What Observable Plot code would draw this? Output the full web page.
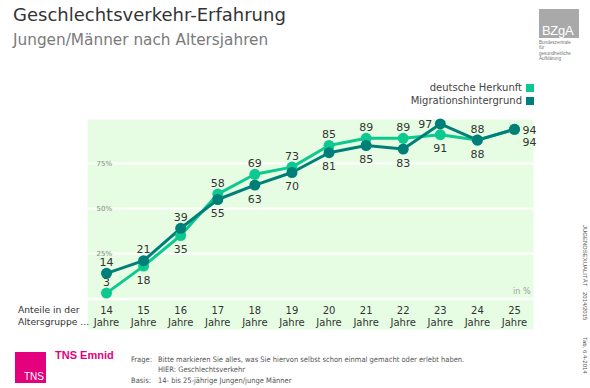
<!DOCTYPE html>
<html>
<head>
<meta charset="utf-8">
<script src="https://cdn.jsdelivr.net/npm/d3@7"></script>
<script src="https://cdn.jsdelivr.net/npm/@observablehq/plot@0.6"></script>
<style>
  html, body { margin: 0; padding: 0; background: #fff; }
  body { width: 590px; height: 388px; position: relative; overflow: hidden; font-family: "DejaVu Sans", Verdana, sans-serif; }
  .abs { position: absolute; white-space: nowrap; }
  #chart { position: absolute; left: 0; top: 0; }
  #title { left: 13px; top: 4px; font-size: 18px; color: #333; }
  #subtitle { left: 13px; top: 31px; font-size: 15.3px; color: #7a7a7a; }
  .leg { font-size: 10px; color: #444; }
  .sw { position: absolute; width: 8px; height: 8px; left: 526px; }
  #bzga { left: 539px; top: 9px; width: 40px; height: 29px; background: #a9a9a9; color: #fff; font-family: "Liberation Sans", Arial, sans-serif; font-size: 13px; }
  #bzga span { position: absolute; left: 3px; bottom: 0px; letter-spacing: -0.3px; }
  #bzgatxt { left: 539px; top: 40px; font-size: 4.6px; line-height: 5.3px; color: #777; font-family: "Liberation Sans", Arial, sans-serif; }
  #tns { left: 15px; top: 352px; width: 31px; height: 31px; background: #e4007c; color: #fff; font-family: "Liberation Sans", Arial, sans-serif; font-size: 10px; }
  #tns span { position: absolute; right: 2px; bottom: 1px; }
  #emnid { left: 55px; top: 349px; font-size: 11px; font-weight: bold; color: #e4007c; font-family: "Liberation Sans", Arial, sans-serif; }
  .foot { font-size: 7.5px; color: #555; font-family: "DejaVu Sans Condensed", "DejaVu Sans", sans-serif; }
  .side { font-size: 6px; color: #555; transform-origin: 0 0; transform: rotate(90deg); font-family: "Liberation Sans", Arial, sans-serif; }
  .rowlab { left: 18px; font-size: 9.2px; color: #333; }
</style>
</head>
<body>
<div id="chart"></div>
<div class="abs" id="title">Geschlechtsverkehr-Erfahrung</div>
<div class="abs" id="subtitle">Jungen/Männer nach Altersjahren</div>
<div class="abs" id="bzga"><span>BZgA</span></div>
<div class="abs" id="bzgatxt">Bundeszentrale<br>für<br>gesundheitliche<br>Aufklärung</div>
<div class="abs rowlab" style="top:304px">Anteile in der</div>
<div class="abs rowlab" style="top:316px">Altersgruppe ...</div>
<div class="abs" id="tns"><span>TNS</span></div>
<div class="abs" id="emnid">TNS Emnid</div>
<div class="abs foot" style="left:131px; top:355px">Frage:</div>
<div class="abs foot" style="left:158px; top:355px">Bitte markieren Sie alles, was Sie hiervon selbst schon einmal gemacht oder erlebt haben.</div>
<div class="abs foot" style="left:158px; top:365px">HIER: Geschlechtsverkehr</div>
<div class="abs foot" style="left:131px; top:376px">Basis:</div>
<div class="abs foot" style="left:158px; top:376px">14- bis 25-jährige Jungen/junge Männer</div>
<div class="abs side" style="left:588px; top:225px">JUGENDSEXUALITÄT</div>
<div class="abs side" style="left:588px; top:292px">2014/2015</div>
<div class="abs side" style="left:588px; top:337px">Tab. 6.4-2014</div>
<script>
// ---- data ----
const ages = [14, 15, 16, 17, 18, 19, 20, 21, 22, 23, 24, 25];
const seriesNames = ["deutsche Herkunft", "Migrationshintergrund"];
const deutsche = [3, 18, 35, 58, 69, 73, 85, 89, 89, 91, 88, 94];
const migration = [14, 21, 39, 55, 63, 70, 81, 85, 83, 97, 88, 94];
const yTicks = [25, 50, 75];
const seriesColors = ["#0dc98f", "#007f79"];
const ageUnit = "Jahre";

// ---- build table ----
const rows = [];
ages.forEach((a, i) => {
  const d = deutsche[i], m = migration[i];
  const last = i === ages.length - 1;
  let pd, pm;
  if (last) { pd = "right2"; pm = "right1"; }
  else {
    pd = d >= m ? "above" : "below";
    pm = d >= m ? "below" : "above";
    if (pd === "below" && d < 10) pd = "above";
    if (pm === "above" && m > 95) pm = "left";
  }
  rows.push({age: a, value: d, series: seriesNames[0], pos: pd});
  rows.push({age: a, value: m, series: seriesNames[1], pos: pm});
});

// legend
seriesNames.forEach((s, i) => {
  const t = document.createElement("div");
  t.className = "abs leg";
  t.style.top = (82 + i * 12.5) + "px";
  t.style.right = "68px";
  t.textContent = s;
  document.body.appendChild(t);
  const sw = document.createElement("div");
  sw.className = "sw";
  sw.style.top = (84 + i * 12.5) + "px";
  sw.style.background = seriesColors[i];
  document.body.appendChild(sw);
});

const bg = "#e6fde3";
const lab = {fontSize: 11, fill: "#333", fontFamily: "DejaVu Sans, Verdana, sans-serif"};
const byPos = p => rows.filter(r => r.pos === p);

const chart = Plot.plot({
  width: 590,
  height: 388,
  marginTop: 119,
  marginBottom: 59,
  marginLeft: 87,
  marginRight: 57,
  style: {background: "transparent", fontFamily: "DejaVu Sans, Verdana, sans-serif"},
  x: {domain: [14, 25], range: [106, 514], axis: null},
  y: {domain: [0, 100], range: [298, 118], axis: null},
  color: {domain: seriesNames, range: seriesColors},
  marks: [
    Plot.frame({fill: bg, stroke: "none"}),
    Plot.ruleY([0], {stroke: "white", strokeWidth: 2.5, dy: 0.5}),
    // grid
    Plot.ruleY(yTicks, {stroke: "white", strokeWidth: 2}),
    // value labels
    Plot.text(byPos("above"), {x: "age", y: "value", text: "value", dy: -11, ...lab}),
    Plot.text(byPos("below"), {x: "age", y: "value", text: "value", dy: 14, ...lab}),
    Plot.text(byPos("left"), {x: "age", y: "value", text: "value", dx: -15, dy: 1, ...lab}),
    Plot.text(byPos("right1"), {x: "age", y: "value", text: "value", dx: 8, dy: 1.5, textAnchor: "start", ...lab}),
    Plot.text(byPos("right2"), {x: "age", y: "value", text: "value", dx: 8, dy: 13.5, textAnchor: "start", ...lab}),
    // tick labels with halo
    Plot.text(yTicks, {y: d => d, text: d => d + "%", frameAnchor: "left", dx: 9, textAnchor: "start", fontSize: 7, fill: "#8a8a8a", stroke: bg, strokeWidth: 3}),
    // lines and dots
    Plot.line(rows, {x: "age", y: "value", stroke: "series", z: "series", strokeWidth: 3}),
    Plot.dot(rows, {x: "age", y: "value", fill: "series", r: 5.5}),
    // x labels inside band
    Plot.text(ages, {x: d => d, text: d => d + "\n" + ageUnit, frameAnchor: "bottom", lineAnchor: "middle", dy: -13, fontSize: 10, fill: "#333", lineHeight: 1.2}),
    Plot.text(["in %"], {frameAnchor: "bottom-right", lineAnchor: "middle", dx: -3, dy: -38, textAnchor: "end", fontSize: 8, fill: "#a0a0a0"})
  ]
});
document.getElementById("chart").appendChild(chart);
</script>
</body>
</html>
